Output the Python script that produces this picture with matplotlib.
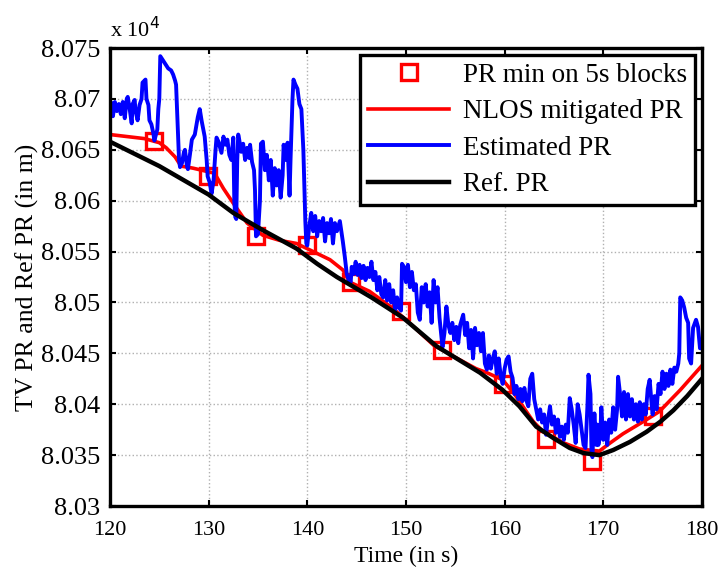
import numpy as np
import matplotlib.pyplot as plt
from matplotlib.ticker import FuncFormatter

plt.rcParams["font.family"] = ["Liberation Serif", "DejaVu Serif"]

# PR minimum on 5 s blocks
sq_t = [124.5, 129.9, 134.8, 140.0, 144.4, 149.5, 153.7, 159.8, 164.2, 168.9, 175.0]
sq_pr = [80659, 80624, 80565, 80556, 80520, 80492, 80453, 80420, 80366, 80344, 80388]

# NLOS mitigated PR
red_t = [120.0, 123.5, 125.0, 125.7, 126.6, 127.2, 128.4, 130.6, 131.5, 132.6,
         133.9, 135.5, 137.2, 138.9, 140.6, 142.3, 143.6, 144.3, 146.3, 148.7,
         150.8, 152.8, 155.0, 157.1, 158.2, 159.8, 161.0, 162.9, 163.9, 166.0,
         167.6, 169.6, 170.7, 172.0, 174.4, 175.7, 177.8, 180.0]
red_pr = [80665, 80661, 80657, 80652, 80643, 80634, 80632, 80627, 80612, 80596,
          80578, 80566, 80561, 80558, 80550, 80542, 80532, 80520, 80511, 80494,
          80476, 80458, 80446, 80435, 80431, 80424, 80410, 80383, 80373, 80362,
          80356, 80354, 80362, 80371, 80385, 80393, 80414, 80438]

# Ref. PR
ref_t = [120.0, 122.5, 125.0, 127.5, 130.0, 132.5, 135.5, 138.9, 141.0, 143.0,
         146.5, 149.7, 153.1, 157.5, 159.8, 161.5, 163.2, 164.9, 166.6, 168.0,
         169.6, 171.0, 172.7, 174.4, 175.8, 177.1, 178.5, 180.0]
ref_pr = [80658, 80646, 80634, 80620, 80606, 80588, 80571, 80553, 80538, 80525,
          80505, 80485, 80457, 80431, 80414, 80398, 80378, 80367, 80357, 80352,
          80350, 80355, 80363, 80373, 80383, 80394, 80408, 80425]

# Estimated PR
est = [
    (120.0, 80690), (120.2, 80696), (120.3, 80683), (120.5, 80697), (120.7, 80688),
    (120.9, 80695), (121.1, 80685), (121.3, 80697), (121.5, 80681), (121.7, 80700),
    (121.8, 80702), (122.0, 80690), (122.2, 80676), (122.3, 80695), (122.5, 80699),
    (122.6, 80688), (122.8, 80679), (123.0, 80694), (123.2, 80700), (123.3, 80716),
    (123.6, 80719), (123.7, 80700), (123.9, 80694), (124.0, 80679), (124.2, 80675),
    (124.4, 80666), (124.5, 80659), (124.8, 80670), (124.9, 80690), (125.0, 80700),
    (125.1, 80742), (125.3, 80739), (125.5, 80736), (125.9, 80730), (126.2, 80728),
    (126.4, 80724), (126.6, 80718), (126.7, 80714), (126.8, 80690), (126.9, 80668),
    (127.0, 80640), (127.1, 80633), (127.3, 80637), (127.5, 80648), (127.6, 80650),
    (127.8, 80634), (127.9, 80631), (128.1, 80645), (128.3, 80660), (128.6, 80665),
    (128.9, 80682), (129.1, 80690), (129.3, 80678), (129.5, 80668), (129.6, 80663),
    (129.8, 80640), (129.9, 80624), (130.1, 80618), (130.3, 80607), (130.5, 80620),
    (130.7, 80650), (130.8, 80662), (131.0, 80658), (131.3, 80647), (131.5, 80663),
    (131.7, 80655), (131.9, 80660), (132.1, 80645), (132.3, 80640), (132.5, 80662),
    (132.6, 80600), (132.7, 80584), (132.8, 80582), (132.9, 80640), (133.0, 80665),
    (133.1, 80660), (133.3, 80648), (133.5, 80656), (133.7, 80640), (133.9, 80652),
    (134.1, 80642), (134.2, 80655), (134.4, 80638), (134.6, 80630), (134.7, 80610),
    (134.8, 80565), (135.0, 80567), (135.2, 80600), (135.3, 80656), (135.5, 80658),
    (135.7, 80630), (135.9, 80645), (136.1, 80620), (136.3, 80640), (136.5, 80605),
    (136.7, 80632), (136.9, 80615), (137.1, 80630), (137.3, 80603), (137.5, 80625),
    (137.6, 80655), (137.8, 80640), (138.0, 80657), (138.2, 80605), (138.3, 80640),
    (138.5, 80700), (138.6, 80719), (138.8, 80714), (139.0, 80710), (139.2, 80695),
    (139.4, 80690), (139.5, 80670), (139.6, 80650), (139.8, 80580), (139.9, 80558),
    (140.0, 80556), (140.2, 80575), (140.4, 80588), (140.6, 80570), (140.8, 80585),
    (141.0, 80565), (141.2, 80580), (141.4, 80570), (141.6, 80583), (141.8, 80560),
    (142.0, 80578), (142.2, 80568), (142.4, 80582), (142.6, 80558), (142.8, 80578),
    (143.0, 80570), (143.3, 80580), (143.6, 80560), (143.8, 80545), (144.0, 80528),
    (144.2, 80522), (144.4, 80520), (144.5, 80535), (144.7, 80528), (144.9, 80540),
    (145.1, 80527), (145.3, 80537), (145.5, 80524), (145.7, 80536), (145.9, 80522),
    (146.1, 80534), (146.3, 80525), (146.5, 80540), (146.7, 80522), (146.9, 80530),
    (147.1, 80512), (147.3, 80525), (147.5, 80508), (147.7, 80505), (147.9, 80522),
    (148.1, 80502), (148.3, 80518), (148.5, 80500), (148.7, 80512), (148.9, 80492),
    (149.1, 80505), (149.3, 80495), (149.5, 80492), (149.6, 80538), (149.8, 80535),
    (150.0, 80520), (150.2, 80537), (150.4, 80515), (150.6, 80530), (150.8, 80512),
    (151.0, 80518), (151.2, 80490), (151.4, 80483), (151.6, 80515), (151.8, 80500),
    (152.0, 80518), (152.2, 80496), (152.4, 80510), (152.6, 80480), (152.8, 80522),
    (153.0, 80500), (153.2, 80515), (153.4, 80485), (153.7, 80456), (153.9, 80470),
    (154.1, 80496), (154.3, 80478), (154.5, 80470), (154.7, 80480), (154.9, 80463),
    (155.1, 80476), (155.3, 80460), (155.5, 80478), (155.8, 80488), (156.0, 80468),
    (156.2, 80480), (156.4, 80455), (156.6, 80473), (156.8, 80445), (157.0, 80475),
    (157.2, 80458), (157.4, 80470), (157.6, 80452), (157.8, 80470), (158.0, 80440),
    (158.2, 80434), (158.4, 80448), (158.6, 80435), (158.8, 80445), (159.0, 80452),
    (159.2, 80430), (159.4, 80445), (159.6, 80428), (159.8, 80420), (160.0, 80435),
    (160.2, 80444), (160.4, 80447), (160.6, 80432), (160.8, 80426), (161.0, 80410),
    (161.2, 80418), (161.4, 80405), (161.6, 80415), (161.8, 80403), (162.0, 80416),
    (162.2, 80404), (162.4, 80398), (162.6, 80425), (162.8, 80430), (163.0, 80405),
    (163.2, 80395), (163.4, 80385), (163.6, 80395), (163.8, 80382), (164.0, 80390),
    (164.2, 80370), (164.4, 80385), (164.6, 80398), (164.8, 80380), (165.0, 80388),
    (165.2, 80372), (165.4, 80385), (165.6, 80368), (165.8, 80378), (166.0, 80365),
    (166.2, 80380), (166.4, 80372), (166.6, 80406), (166.8, 80395), (167.0, 80380),
    (167.2, 80362), (167.4, 80400), (167.6, 80390), (167.8, 80375), (168.0, 80360),
    (168.2, 80357), (168.4, 80400), (168.5, 80429), (168.7, 80410), (168.8, 80356),
    (168.9, 80348), (169.0, 80375), (169.1, 80391), (169.3, 80360), (169.4, 80380),
    (169.5, 80360), (169.7, 80370), (169.8, 80397), (170.0, 80365), (170.2, 80382),
    (170.4, 80360), (170.6, 80385), (170.8, 80372), (171.0, 80397), (171.2, 80375),
    (171.4, 80395), (171.5, 80427), (171.7, 80410), (171.9, 80388), (172.1, 80412),
    (172.3, 80385), (172.5, 80410), (172.7, 80388), (172.9, 80405), (173.1, 80385),
    (173.3, 80400), (173.5, 80383), (173.7, 80402), (173.9, 80385), (174.1, 80400),
    (174.3, 80390), (174.5, 80415), (174.7, 80424), (174.9, 80400), (175.0, 80390),
    (175.2, 80408), (175.4, 80395), (175.6, 80420), (175.8, 80410), (176.0, 80432),
    (176.2, 80415), (176.4, 80430), (176.6, 80418), (176.8, 80434), (177.0, 80420),
    (177.2, 80436), (177.4, 80432), (177.6, 80440), (177.7, 80450), (177.8, 80505),
    (178.0, 80502), (178.2, 80495), (178.4, 80485), (178.6, 80480), (178.7, 80445),
    (178.9, 80440), (179.1, 80475), (179.4, 80483), (179.6, 80476), (179.8, 80455),
    (180.0, 80455),
]
est_t = [p[0] for p in est]
est_pr = [p[1] for p in est]

fig = plt.figure(figsize=(7.23, 5.76), dpi=100)
ax = fig.add_axes([0.1521, 0.1215, 0.8188, 0.7951])

ax.plot(sq_t, sq_pr, "s", color="red", mfc="none", ms=12, mew=2.4,
        label="PR min on 5s blocks")
ax.plot(red_t, red_pr, color="red", lw=2.6, label="NLOS mitigated PR")
ax.plot(est_t, est_pr, color="blue", lw=2.8, label="Estimated PR")
ax.plot(ref_t, ref_pr, color="black", lw=3.2, label="Ref. PR")

ax.set_xlim(120, 180)
ax.set_ylim(80300, 80750)
ax.set_xticks(np.arange(120, 181, 10))
ax.set_yticks(np.arange(80300, 80751, 50))
ax.yaxis.set_major_formatter(FuncFormatter(lambda v, p: "%g" % (v / 1e4)))
ax.grid(True, color="#b0b0b0", linestyle=":", linewidth=1.0)
ax.tick_params(direction="in", length=4, width=1.5, top=True, right=True)
ax.tick_params(axis="x", labelsize=16, pad=11)
ax.tick_params(axis="y", labelsize=19, pad=7)
for s in ax.spines.values():
    s.set_linewidth(2.4)

ax.set_xlabel("Time (in s)", fontsize=17, labelpad=4)
ax.set_ylabel("TV PR and Ref PR (in m)", fontsize=18.5, labelpad=1)
ax.text(0.0, 1.012, r"x 10$^4$", transform=ax.transAxes, fontsize=16,
        ha="left", va="bottom")

leg = ax.legend(loc="upper right", fontsize=19.5, handlelength=3.0,
                borderaxespad=0.25, fancybox=False, framealpha=1,
                labelspacing=0.42, borderpad=0.3, handletextpad=0.5)
leg.get_frame().set_edgecolor("black")
leg.get_frame().set_linewidth(2.4)

fig.savefig("out.png", dpi=100)
